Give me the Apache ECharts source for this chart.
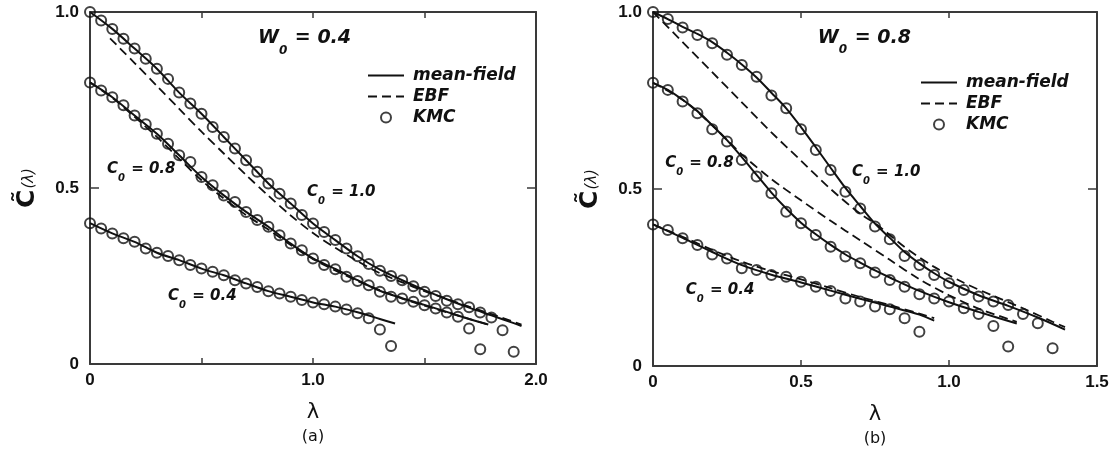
<!DOCTYPE html>
<html><head><meta charset="utf-8">
<script src="https://cdn.jsdelivr.net/npm/echarts@6/dist/echarts.min.js"></script>
<style>html,body{margin:0;padding:0;background:#fff}#c{width:1115px;height:452px}</style>
</head><body><div id="c"></div>
<script>
// ---------- Panel (a): W0 = 0.4 ----------
const kmcA10_x = [0,0.05,0.1,0.15,0.2,0.25,0.3,0.35,0.4,0.45,0.5,0.55,0.6,0.65,0.7,0.75,0.8,0.85,0.9,0.95,1.0,1.05,1.1,1.15,1.2,1.25,1.3,1.35,1.4,1.45,1.5,1.55,1.6,1.65,1.7,1.75,1.8,1.85,1.9];
const kmcA10_y = [1.0,0.976,0.952,0.924,0.896,0.867,0.839,0.810,0.771,0.740,0.711,0.673,0.645,0.612,0.579,0.546,0.513,0.484,0.456,0.423,0.399,0.375,0.352,0.328,0.306,0.284,0.265,0.250,0.238,0.221,0.205,0.193,0.180,0.170,0.161,0.146,0.132,0.096,0.035];
const kmcA08_x = [0,0.05,0.1,0.15,0.2,0.25,0.3,0.35,0.4,0.45,0.5,0.55,0.6,0.65,0.7,0.75,0.8,0.85,0.9,0.95,1.0,1.05,1.1,1.15,1.2,1.25,1.3,1.35,1.4,1.45,1.5,1.55,1.6,1.65,1.7,1.75];
const kmcA08_y = [0.80,0.777,0.758,0.735,0.706,0.681,0.654,0.626,0.593,0.574,0.531,0.508,0.479,0.460,0.432,0.409,0.390,0.366,0.342,0.323,0.300,0.281,0.269,0.248,0.236,0.224,0.205,0.191,0.186,0.177,0.167,0.158,0.146,0.134,0.101,0.042];
const kmcA04_x = [0,0.05,0.1,0.15,0.2,0.25,0.3,0.35,0.4,0.45,0.5,0.55,0.6,0.65,0.7,0.75,0.8,0.85,0.9,0.95,1.0,1.05,1.1,1.15,1.2,1.25,1.3,1.35];
const kmcA04_y = [0.40,0.385,0.371,0.357,0.347,0.328,0.316,0.307,0.295,0.281,0.271,0.262,0.252,0.238,0.229,0.219,0.207,0.200,0.191,0.182,0.175,0.170,0.163,0.155,0.144,0.130,0.098,0.051];

const mfA10_x = [0,0.1,0.2,0.3,0.4,0.5,0.6,0.7,0.8,0.9,1.0,1.1,1.2,1.3,1.4,1.5,1.6,1.7,1.8,1.9,1.935];
const mfA10_y = [1.0,0.952,0.896,0.839,0.771,0.711,0.645,0.579,0.513,0.456,0.399,0.352,0.306,0.268,0.238,0.210,0.184,0.160,0.138,0.116,0.108];
const mfA08_x = [0,0.1,0.2,0.3,0.4,0.5,0.6,0.7,0.8,0.9,1.0,1.1,1.2,1.3,1.4,1.5,1.6,1.7,1.786];
const mfA08_y = [0.8,0.758,0.706,0.654,0.593,0.531,0.479,0.432,0.390,0.342,0.300,0.270,0.238,0.208,0.187,0.168,0.148,0.128,0.112];
const mfA04_x = [0,0.1,0.2,0.3,0.4,0.5,0.6,0.7,0.8,0.9,1.0,1.1,1.2,1.3,1.368];
const mfA04_y = [0.4,0.371,0.347,0.316,0.295,0.271,0.252,0.229,0.207,0.191,0.175,0.163,0.147,0.128,0.115];

const ebfA10_x = [0.09,0.2,0.3,0.4,0.5,0.6,0.7,0.8,0.9,1.0,1.1,1.2,1.3,1.4,1.5,1.6,1.7,1.8,1.935];
const ebfA10_y = [0.925,0.855,0.79,0.725,0.66,0.598,0.537,0.478,0.422,0.372,0.33,0.292,0.258,0.232,0.207,0.185,0.163,0.142,0.112];
const ebfA08_x = [0,0.1,0.2,0.3,0.4,0.5,0.6,0.7,0.8,0.9,1.0,1.2,1.4,1.6,1.786];
const ebfA08_y = [0.8,0.756,0.702,0.645,0.583,0.522,0.47,0.423,0.382,0.338,0.298,0.236,0.186,0.147,0.112];

// ---------- Panel (b): W0 = 0.8 ----------
const kmcB10_x = [0,0.05,0.1,0.15,0.2,0.25,0.3,0.35,0.4,0.45,0.5,0.55,0.6,0.65,0.7,0.75,0.8,0.85,0.9,0.95,1.0,1.05,1.1,1.15,1.2,1.25,1.3,1.35];
const kmcB10_y = [1.0,0.980,0.956,0.935,0.912,0.879,0.850,0.817,0.764,0.728,0.669,0.610,0.554,0.492,0.445,0.394,0.358,0.311,0.285,0.257,0.234,0.215,0.196,0.182,0.172,0.147,0.121,0.050];
const kmcB08_x = [0,0.05,0.1,0.15,0.2,0.25,0.3,0.35,0.4,0.45,0.5,0.55,0.6,0.65,0.7,0.75,0.8,0.85,0.9,0.95,1.0,1.05,1.1,1.15,1.2];
const kmcB08_y = [0.80,0.780,0.747,0.714,0.669,0.634,0.582,0.535,0.488,0.436,0.403,0.370,0.337,0.309,0.290,0.264,0.243,0.224,0.203,0.191,0.182,0.163,0.147,0.113,0.055];
const kmcB04_x = [0,0.05,0.1,0.15,0.2,0.25,0.3,0.35,0.4,0.45,0.5,0.55,0.6,0.65,0.7,0.75,0.8,0.85,0.9];
const kmcB04_y = [0.40,0.384,0.361,0.342,0.315,0.304,0.276,0.271,0.257,0.252,0.238,0.224,0.212,0.191,0.182,0.168,0.160,0.135,0.097];

const mfB10_x = [0,0.05,0.1,0.15,0.2,0.25,0.3,0.35,0.4,0.45,0.5,0.55,0.6,0.65,0.7,0.75,0.8,0.85,0.9,0.95,1.0,1.1,1.2,1.3,1.392];
const mfB10_y = [1.0,0.98,0.958,0.938,0.915,0.885,0.852,0.815,0.772,0.728,0.675,0.618,0.56,0.503,0.452,0.402,0.362,0.322,0.29,0.262,0.238,0.2,0.17,0.137,0.103];
const mfB08_x = [0,0.05,0.1,0.15,0.2,0.25,0.3,0.35,0.4,0.45,0.5,0.55,0.6,0.65,0.7,0.75,0.8,0.9,1.0,1.1,1.229];
const mfB08_y = [0.8,0.78,0.752,0.72,0.68,0.638,0.59,0.54,0.49,0.445,0.405,0.372,0.342,0.315,0.292,0.27,0.25,0.212,0.18,0.153,0.12];
const mfB04_x = [0,0.1,0.2,0.3,0.4,0.5,0.6,0.7,0.8,0.9,0.95];
const mfB04_y = [0.4,0.362,0.322,0.285,0.258,0.236,0.213,0.19,0.168,0.145,0.128];

const ebfB10_x = [0,0.1,0.2,0.3,0.4,0.5,0.6,0.7,0.76,0.85,0.95,1.05,1.15,1.25,1.35,1.392];
const ebfB10_y = [1.0,0.915,0.83,0.745,0.66,0.58,0.5,0.43,0.397,0.336,0.28,0.235,0.198,0.163,0.125,0.11];
const ebfB08_x = [0,0.1,0.2,0.3,0.4,0.5,0.6,0.7,0.8,0.9,1.0,1.1,1.229];
const ebfB08_y = [0.8,0.752,0.68,0.598,0.528,0.468,0.41,0.355,0.30,0.245,0.2,0.162,0.125];
const ebfB04_x = [0,0.1,0.2,0.3,0.4,0.5,0.6,0.7,0.8,0.9,0.95];
const ebfB04_y = [0.4,0.365,0.328,0.295,0.268,0.245,0.22,0.195,0.172,0.148,0.135];

// ---------- tick labels ----------
const xTicksA = [0, 1.0, 2.0], xTickLabelsA = ['0', '1.0', '2.0'];
const xTicksB = [0, 0.5, 1.0, 1.5], xTickLabelsB = ['0', '0.5', '1.0', '1.5'];
const yTicks = [0, 0.5, 1.0], yTickLabels = ['0', '0.5', '1.0'];
const panelTitles = ['0.4', '0.8'];
const panelLetters = ['(a)', '(b)'];

const INK = '#111';
const AX = '#3a3a3a';
const pairs = (xs, ys) => xs.map((x, i) => [x, ys[i]]);
const fmt = (ticks, labels) => v => { const i = ticks.findIndex(t => Math.abs(t - v) < 1e-9); return i < 0 ? '' : labels[i]; };

function xAxes(grid, max, ticks, labels, letter) {
  return [{
    type: 'value', gridIndex: grid, min: 0, max: max, interval: 0.5, position: 'bottom',
    axisLine: { show: true, onZero: false, lineStyle: { color: AX, width: 2 } },
    axisTick: { show: true, inside: true, length: 6, lineStyle: { color: AX, width: 1.5 } },
    splitLine: { show: false },
    axisLabel: { formatter: fmt(ticks, labels), fontFamily: 'Liberation Sans', fontWeight: 'bold', fontSize: 17, color: INK, margin: 8, showMinLabel: true, showMaxLabel: true },
    name: '{l|λ}\n{p|' + letter + '}', nameLocation: 'middle', nameGap: 36,
    nameTextStyle: { rich: {
      l: { fontFamily: 'DejaVu Sans', fontSize: 21, color: INK, lineHeight: 26, align: 'center' },
      p: { fontFamily: 'DejaVu Sans', fontSize: 16, color: INK, lineHeight: 22, align: 'center' } } }
  }, {
    type: 'value', gridIndex: grid, min: 0, max: max, interval: 0.5, position: 'top',
    axisLine: { show: true, onZero: false, lineStyle: { color: AX, width: 2 } },
    axisTick: { show: true, inside: true, length: 6, lineStyle: { color: AX, width: 1.5 } },
    splitLine: { show: false }, axisLabel: { show: false }
  }];
}
function yAxes(grid) {
  return [{
    type: 'value', gridIndex: grid, min: 0, max: 1, interval: 0.5, position: 'left',
    axisLine: { show: true, onZero: false, lineStyle: { color: AX, width: 2 } },
    axisTick: { show: true, inside: true, length: 9, lineStyle: { color: AX, width: 1.5 } },
    splitLine: { show: false },
    axisLabel: { formatter: fmt(yTicks, yTickLabels), fontFamily: 'Liberation Sans', fontWeight: 'bold', fontSize: 17, color: INK, margin: 11 },
    name: '{c|C\u0303}{l|(λ)}', nameLocation: 'middle', nameGap: 50, nameRotate: 90,
    nameTextStyle: { rich: {
      c: { fontFamily: 'DejaVu Sans', fontWeight: 'bold', fontSize: 25, color: INK, verticalAlign: 'bottom' },
      l: { fontFamily: 'DejaVu Sans', fontStyle: 'italic', fontSize: 15, color: INK, verticalAlign: 'bottom', padding: [0, 0, 3, 1] } } }
  }, {
    type: 'value', gridIndex: grid, min: 0, max: 1, interval: 0.5, position: 'right',
    axisLine: { show: true, onZero: false, lineStyle: { color: AX, width: 2 } },
    axisTick: { show: true, inside: true, length: 9, lineStyle: { color: AX, width: 1.5 } },
    splitLine: { show: false }, axisLabel: { show: false }
  }];
}

function mf(xi, yi, xs, ys) {
  return { type: 'line', name: 'mean-field', xAxisIndex: xi, yAxisIndex: yi, data: pairs(xs, ys), symbol: 'none', smooth: 0.3,
    lineStyle: { color: INK, width: 2 }, itemStyle: { color: INK }, z: 3, silent: true };
}
function ebf(xi, yi, xs, ys) {
  return { type: 'line', name: 'EBF', xAxisIndex: xi, yAxisIndex: yi, data: pairs(xs, ys), symbol: 'none', smooth: 0.3,
    lineStyle: { color: INK, width: 1.8, type: [9, 5] }, itemStyle: { color: INK }, z: 3, silent: true };
}
function kmc(xi, yi, xs, ys) {
  return { type: 'scatter', name: 'KMC', xAxisIndex: xi, yAxisIndex: yi, data: pairs(xs, ys), symbol: 'circle', symbolSize: 10,
    itemStyle: { color: 'rgba(255,255,255,0)', borderColor: INK, borderWidth: 2 }, z: 4, silent: true };
}

const legendText = { fontFamily: 'DejaVu Sans', fontStyle: 'italic', fontWeight: 'bold', fontSize: 17, color: INK, padding: [0, 0, 0, 4] };
function legend(left, top) {
  return { orient: 'vertical', left: left, top: top, itemWidth: 36, itemHeight: 10, itemGap: 4, selectedMode: false,
    textStyle: legendText, data: [
      { name: 'mean-field', itemStyle: { opacity: 0 } },
      { name: 'EBF', itemStyle: { opacity: 0 } },
      { name: 'KMC', icon: 'circle', itemStyle: { color: 'rgba(255,255,255,0)', borderColor: INK, borderWidth: 2 } }
    ] };
}

const chart = echarts.init(document.getElementById('c'), null, { renderer: 'canvas' });
chart.setOption({
  animation: false,
  backgroundColor: '#fff',
  grid: [
    { left: 90, right: 579, top: 12, bottom: 88 },
    { left: 653, right: 18, top: 12, bottom: 86 }
  ],
  xAxis: [...xAxes(0, 2.0, xTicksA, xTickLabelsA, panelLetters[0]), ...xAxes(1, 1.5, xTicksB, xTickLabelsB, panelLetters[1])],
  yAxis: [...yAxes(0), ...yAxes(1)],
  legend: [legend(362, 62), legend(915, 69)],
  series: [
    mf(0, 0, mfA10_x, mfA10_y), mf(0, 0, mfA08_x, mfA08_y), mf(0, 0, mfA04_x, mfA04_y),
    ebf(0, 0, ebfA10_x, ebfA10_y), ebf(0, 0, ebfA08_x, ebfA08_y),
    kmc(0, 0, kmcA10_x, kmcA10_y), kmc(0, 0, kmcA08_x, kmcA08_y), kmc(0, 0, kmcA04_x, kmcA04_y),
    mf(2, 2, mfB10_x, mfB10_y), mf(2, 2, mfB08_x, mfB08_y), mf(2, 2, mfB04_x, mfB04_y),
    ebf(2, 2, ebfB10_x, ebfB10_y), ebf(2, 2, ebfB08_x, ebfB08_y), ebf(2, 2, ebfB04_x, ebfB04_y),
    kmc(2, 2, kmcB10_x, kmcB10_y), kmc(2, 2, kmcB08_x, kmcB08_y), kmc(2, 2, kmcB04_x, kmcB04_y)
  ]
});

// Annotations anchored in data coordinates: [grid, x, y, kind, value]
const notes = [
  [0, 0.753, 0.925, 'W', panelTitles[0]],
  [0, 0.076, 0.553, 'C', '0.8'],
  [0, 0.973, 0.488, 'C', '1.0'],
  [0, 0.350, 0.193, 'C', '0.4'],
  [1, 0.557, 0.927, 'W', panelTitles[1]],
  [1, 0.041, 0.573, 'C', '0.8'],
  [1, 0.672, 0.548, 'C', '1.0'],
  [1, 0.111, 0.215, 'C', '0.4']
];
const graphics = notes.map(n => {
  const p = chart.convertToPixel({ gridIndex: n[0] }, [n[1], n[2]]);
  const big = n[3] === 'W';
  const fs = big ? 19 : 15;
  return {
    type: 'text', x: p[0], y: p[1], z: 10,
    style: {
      text: '{m|' + n[3] + '}{s|0}{m| = ' + n[4] + '}',
      verticalAlign: 'middle', align: 'left',
      rich: {
        m: { fontFamily: 'DejaVu Sans', fontStyle: 'italic', fontWeight: 'bold', fontSize: fs, fill: INK, lineHeight: fs + 4, verticalAlign: 'middle' },
        s: { fontFamily: 'DejaVu Sans', fontStyle: 'italic', fontWeight: 'bold', fontSize: Math.round(fs * 0.65), fill: INK, verticalAlign: 'bottom', padding: [0, 1, -Math.round(fs * 0.35), 0] }
      }
    }
  };
});
chart.setOption({ graphic: graphics });
</script></body></html>
